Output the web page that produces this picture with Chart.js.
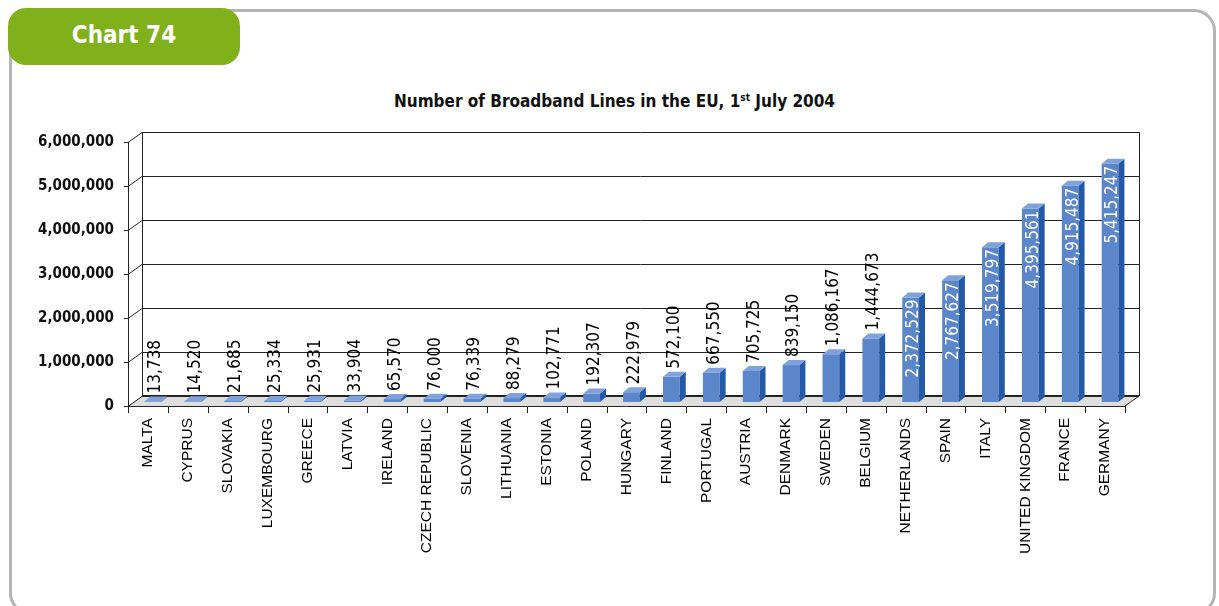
<!DOCTYPE html>
<html>
<head>
<meta charset="utf-8">
<script src="https://cdn.jsdelivr.net/npm/chart.js@4/dist/chart.umd.min.js"></script>
<style>
  body { margin: 0; width: 1219px; height: 606px; background: #fff; position: relative; overflow: hidden; }
  #frame { position: absolute; left: 9px; top: 9px; width: 1201px; height: 600px; border: 3px solid #b4b4b4; border-radius: 22px; }
  #tab { position: absolute; left: 8px; top: 8px; width: 232px; height: 57px; border-radius: 18px; background: #80b11a;
         color: #fff; font: bold 24px "DejaVu Sans Condensed", "DejaVu Sans", sans-serif; text-align: center; line-height: 55px; }
  #title { position: absolute; left: 0; width: 1229px; top: 91px; text-align: center; color: #111;
           font: bold 17px "DejaVu Sans Condensed", "DejaVu Sans", sans-serif; }
  #title sup { font-size: 10px; vertical-align: 6px; line-height: 0; }
  #c { position: absolute; left: 0; top: 0; }
</style>
</head>
<body>
<div id="frame"></div>
<div id="tab">Chart 74</div>
<div id="title">Number of Broadband Lines in the EU, 1<sup>st</sup> July 2004</div>
<canvas id="c" width="1219" height="606"></canvas>
<script>
// data
const countries = ['MALTA', 'CYPRUS', 'SLOVAKIA', 'LUXEMBOURG', 'GREECE', 'LATVIA', 'IRELAND', 'CZECH REPUBLIC',
  'SLOVENIA', 'LITHUANIA', 'ESTONIA', 'POLAND', 'HUNGARY', 'FINLAND', 'PORTUGAL', 'AUSTRIA', 'DENMARK',
  'SWEDEN', 'BELGIUM', 'NETHERLANDS', 'SPAIN', 'ITALY', 'UNITED KINGDOM', 'FRANCE', 'GERMANY'];
const lines = [13738, 14520, 21685, 25334, 25931, 33904, 65570, 76000, 76339, 88279, 102771, 192307, 222979,
  572100, 667550, 705725, 839150, 1086167, 1444673, 2372529, 2767627, 3519797, 4395561, 4915487, 5415247];
const yMin = 0, yMax = 6000000, yStep = 1000000;

const fmt = v => v.toLocaleString('en-US');
const condensed = '"DejaVu Sans Condensed", "DejaVu Sans", sans-serif';

// front plane / back wall offsets from the plane the bars stand in
const FRONT = { dx: -5, dy: 4 };
const BACK = { dx: 9, dy: -6 };
const DEPTH = { dx: 6, dy: -5 };

const depth3d = {
  id: 'depth3d',
  beforeDatasetsDraw(chart) {
    const { ctx, chartArea: a, scales: { y } } = chart;
    const n = countries.length;
    ctx.save();
    // floor
    ctx.fillStyle = '#dedede';
    ctx.beginPath();
    ctx.moveTo(a.left + FRONT.dx, a.bottom + FRONT.dy);
    ctx.lineTo(a.right + FRONT.dx, a.bottom + FRONT.dy);
    ctx.lineTo(a.right + BACK.dx, a.bottom + BACK.dy);
    ctx.lineTo(a.left + BACK.dx, a.bottom + BACK.dy);
    ctx.closePath();
    ctx.fill();

    ctx.strokeStyle = '#222';
    ctx.lineWidth = 1;
    const line = (x1, y1, x2, y2) => { ctx.beginPath(); ctx.moveTo(x1, y1); ctx.lineTo(x2, y2); ctx.stroke(); };

    // gridlines on the back wall, and the short diagonals to the front axis
    y.ticks.forEach(t => {
      const yy = Math.round(y.getPixelForValue(t.value));
      if (t.value > 0) line(a.left + BACK.dx, yy + BACK.dy + 0.5, a.right + BACK.dx, yy + BACK.dy + 0.5);
      line(a.left + FRONT.dx, yy + FRONT.dy + 0.5, a.left + BACK.dx, yy + BACK.dy + 0.5);
      line(a.left + FRONT.dx - 4, yy + FRONT.dy + 0.5, a.left + FRONT.dx, yy + FRONT.dy + 0.5);
    });
    // wall edges
    line(a.left + BACK.dx + 0.5, a.top + BACK.dy, a.left + BACK.dx + 0.5, a.bottom + BACK.dy);
    line(a.right + BACK.dx + 0.5, a.top + BACK.dy, a.right + BACK.dx + 0.5, a.bottom + BACK.dy);
    line(a.left + FRONT.dx + 0.5, a.top + FRONT.dy, a.left + FRONT.dx + 0.5, a.bottom + FRONT.dy);
    // floor edges
    line(a.left + FRONT.dx, a.bottom + FRONT.dy + 0.5, a.right + FRONT.dx, a.bottom + FRONT.dy + 0.5);
    line(a.right + FRONT.dx, a.bottom + FRONT.dy, a.right + BACK.dx, a.bottom + BACK.dy);
    ctx.lineWidth = 2;
    line(a.left + BACK.dx, a.bottom + BACK.dy, a.right + BACK.dx, a.bottom + BACK.dy);
    ctx.lineWidth = 1;
    // category tick marks on the front edge
    for (let i = 0; i <= n; i++) {
      const px = Math.round(a.left + FRONT.dx + i * a.width / n) + 0.5;
      line(px, a.bottom + FRONT.dy, px, a.bottom + FRONT.dy + 7);
    }
    ctx.restore();
  },
  afterDatasetsDraw(chart) {
    const { ctx } = chart;
    const meta = chart.getDatasetMeta(0);
    ctx.save();
    meta.data.forEach((bar, i) => {
      const { x, y, base, width } = bar.getProps(['x', 'y', 'base', 'width'], true);
      const l = x - width / 2, r = x + width / 2;
      // side face
      ctx.fillStyle = '#2459a7';
      ctx.beginPath();
      ctx.moveTo(r, y); ctx.lineTo(r + DEPTH.dx, y + DEPTH.dy);
      ctx.lineTo(r + DEPTH.dx, base + DEPTH.dy); ctx.lineTo(r, base);
      ctx.closePath(); ctx.fill();
      // top face
      ctx.fillStyle = '#7fa2dc';
      ctx.beginPath();
      ctx.moveTo(l, y); ctx.lineTo(r, y);
      ctx.lineTo(r + DEPTH.dx, y + DEPTH.dy); ctx.lineTo(l + DEPTH.dx, y + DEPTH.dy);
      ctx.closePath(); ctx.fill();

      // value label, rotated
      const v = lines[i];
      ctx.save();
      ctx.font = '17px ' + condensed;
      ctx.textBaseline = 'middle';
      if (v < 2000000) {
        ctx.translate(x + 3, y - 8);
        ctx.rotate(-Math.PI / 2);
        ctx.textAlign = 'left';
        ctx.fillStyle = '#000';
      } else {
        ctx.translate(x + 3, y + 2);
        ctx.rotate(-Math.PI / 2);
        ctx.textAlign = 'right';
        ctx.fillStyle = '#fff';
      }
      ctx.fillText(fmt(v), 0, 0);
      ctx.restore();
    });
    ctx.restore();
  }
};

new Chart(document.getElementById('c'), {
  type: 'bar',
  data: {
    labels: countries,
    datasets: [{
      data: lines,
      backgroundColor: '#5b86c9',
      borderWidth: 0,
      categoryPercentage: 1,
      barPercentage: 0.42
    }]
  },
  options: {
    responsive: false,
    animation: false,
    devicePixelRatio: 1,
    layout: { padding: { top: 138, right: 89, left: 0, bottom: 0 } },
    plugins: { legend: { display: false }, tooltip: { enabled: false } },
    scales: {
      x: {
        grid: { display: false, drawTicks: false },
        border: { display: false },
        ticks: {
          autoSkip: false, minRotation: 90, maxRotation: 90,
          padding: 16, labelOffset: -5, color: '#000',
          font: { family: '"Liberation Sans", Arial, sans-serif', size: 15.5 }
        },
        afterFit(scale) { scale.height = 204; }
      },
      y: {
        min: yMin, max: yMax,
        grid: { display: false, drawTicks: false },
        border: { display: false },
        ticks: {
          stepSize: yStep, padding: 19, labelOffset: 4, color: '#111',
          font: { family: condensed, size: 15, weight: 'bold' },
          callback: v => fmt(v)
        },
        afterFit(scale) { scale.width = 133; }
      }
    }
  },
  plugins: [depth3d]
});
</script>
</body>
</html>
